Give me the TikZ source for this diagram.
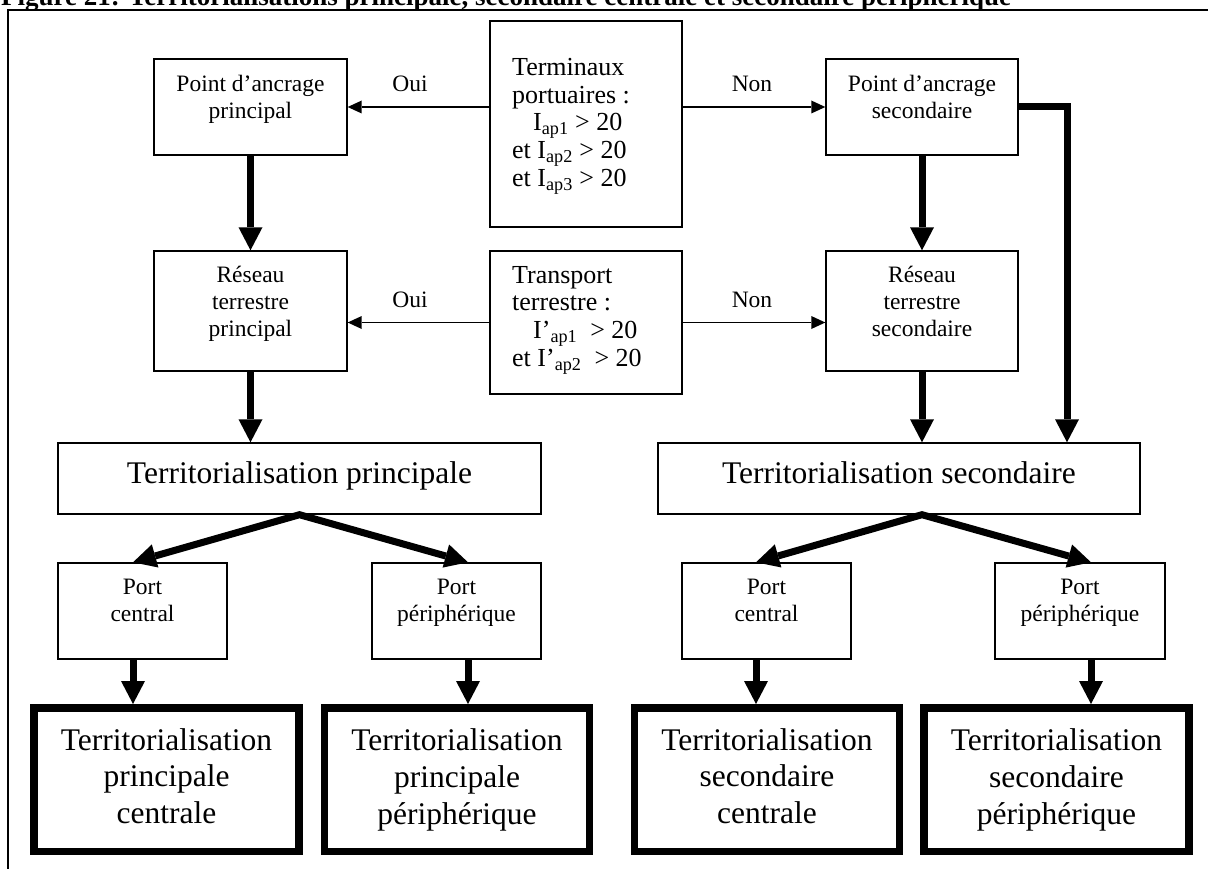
\documentclass[tikz,border=0pt]{standalone}
\usepackage{fontspec}
\setmainfont{Liberation Serif}
\usetikzlibrary{arrows.meta,calc}
\newcommand\fsmall{\fontsize{23.5}{27}\selectfont}
\newcommand\fmid{\fontsize{26}{27.75}\selectfont}
\newcommand\fbig{\fontsize{31.5}{36.7}\selectfont}
\newcommand\ftitle{\bfseries\fontsize{27}{27}\selectfont}
\begin{document}
\begin{tikzpicture}[x=1pt,y=-1pt,
  box/.style={draw, line width=1.4pt, inner sep=0pt, rectangle},
  bigbox/.style={draw, line width=7.5pt, minimum width=265pt, minimum height=143.5pt, inner sep=0pt, rectangle},
  txt/.style={inner sep=0pt, align=center},
  thickarrow/.style={line width=7pt, -{Triangle[length=23pt,width=24pt,line width=0pt]}},
  bothtips/.style={line width=7pt, {Triangle[length=23pt,width=24pt,line width=0pt]}-{Triangle[length=23pt,width=24pt,line width=0pt]}},
  thinarrow/.style={line width=1.4pt, -{Triangle[length=14pt,width=13pt,line width=0pt]}},
  lbl/.style={anchor=base, inner sep=0pt, font=\fsmall}
]
\clip (0,0) rectangle (1208,869);
\node[anchor=base west, inner sep=0pt, font=\ftitle] (title) at (1,5.5) {Figure 21: Territorialisations principale, secondaire centrale et secondaire périphérique};
\draw[line width=1.5pt] (8,869) -- (8,10) -- (1208,10);

% boxes
\node[box, minimum width=193pt, minimum height=96pt] (pa1) at (250.5,107) {};
\node[box, minimum width=192pt, minimum height=96pt] (pa2) at (922,107) {};
\node[box, minimum width=192pt, minimum height=206pt] (term) at (586,124) {};
\node[box, minimum width=193pt, minimum height=120pt] (rt1) at (250.5,311) {};
\node[box, minimum width=192pt, minimum height=120pt] (rt2) at (922,311) {};
\node[box, minimum width=192pt, minimum height=143pt] (trans) at (586,322.5) {};
\node[box, minimum width=483pt, minimum height=71pt] (tp) at (299.5,478.5) {};
\node[box, minimum width=482pt, minimum height=71pt] (ts) at (899,478.5) {};
\node[box, minimum width=169pt, minimum height=96pt] (pc1) at (142.5,611) {};
\node[box, minimum width=169pt, minimum height=96pt] (pp1) at (456.5,611) {};
\node[box, minimum width=169pt, minimum height=96pt] (pc2) at (766.5,611) {};
\node[box, minimum width=170pt, minimum height=96pt] (pp2) at (1080,611) {};
\node[bigbox] (b1) at (166.5,779.5) {};
\node[bigbox] (b2) at (457,779.5) {};
\node[bigbox] (b3) at (767,779.5) {};
\node[bigbox] (b4) at (1056.5,779.5) {};

% texts
\node[txt, font=\fsmall] (pa1t) at (250.5,99.8) {Point d’ancrage\\principal};
\node[txt, font=\fsmall] (pa2t) at (922,97.3) {Point d’ancrage\\secondaire};
\node[txt, font=\fsmall] (rt1t) at (250.5,304.3) {Réseau\\terrestre\\principal};
\node[txt, font=\fsmall] (rt2t) at (922,301.8) {Réseau\\terrestre\\secondaire};
\node[txt, align=left, font=\fmid, anchor=west] (termt) at (512,126) {Terminaux\\portuaires :\\\hspace*{21pt}I\textsubscript{ap1} > 20\\et I\textsubscript{ap2} > 20\\et I\textsubscript{ap3} > 20};
\node[txt, align=left, font=\fmid, anchor=west] (transt) at (512,320) {Transport\\terrestre :\\\hspace*{21pt}I’\textsubscript{ap1} \ > 20\\et I’\textsubscript{ap2} \ > 20};
\node[lbl] (oui1) at (410,92) {Oui};
\node[lbl] (oui2) at (410,307) {Oui};
\node[lbl] (non1) at (752,92) {Non};
\node[lbl] (non2) at (752,307) {Non};
\node[anchor=base, inner sep=0pt, font=\fbig] (tpt) at (299.5,483) {Territorialisation principale};
\node[anchor=base, inner sep=0pt, font=\fbig] (tst) at (899,483) {Territorialisation secondaire};
\node[txt, font=\fsmall] (pc1t) at (142.5,600.7) {Port\\central};
\node[txt, font=\fsmall] (pp1t) at (456.5,603) {Port\\périphérique};
\node[txt, font=\fsmall] (pc2t) at (766.5,600.7) {Port\\central};
\node[txt, font=\fsmall] (pp2t) at (1080,603) {Port\\périphérique};
\node[txt, font=\fbig] (b1t) at (166.5,776) {Territorialisation\\principale\\centrale};
\node[txt, font=\fbig] (b2t) at (457,780) {Territorialisation\\principale\\périphérique};
\node[txt, font=\fbig] (b3t) at (767,776) {Territorialisation\\secondaire\\centrale};
\node[txt, font=\fbig] (b4t) at (1056.5,780) {Territorialisation\\secondaire\\périphérique};

% thin arrows
\draw[thinarrow] (term.west |- pa1.east) -- (pa1.east);
\draw[thinarrow] (term.east |- pa2.west) -- (pa2.west);
\draw[thinarrow] (trans.west) -- (rt1.east |- trans.west);
\draw[thinarrow] (trans.east) -- (rt2.west |- trans.east);

% thick arrows
\draw[thickarrow] (pa1.south) -- (rt1.north);
\draw[thickarrow] (rt1.south) -- (rt1.south |- tp.north);
\draw[thickarrow] (pa2.south) -- (rt2.north);
\draw[thickarrow] (rt2.south) -- (rt2.south |- ts.north);
\draw[thickarrow] (pa2.east) -| ([xshift=168pt]ts.north);

\coordinate (ap1) at (tp.south);
\coordinate (ap2) at (rt2.south |- ts.south);
\draw[bothtips] ([xshift=-9.5pt]pc1.north) -- (ap1) -- ([xshift=11.5pt]pp1.north);
\draw[bothtips] ([xshift=-10.5pt]pc2.north) -- (ap2) -- ([xshift=11pt]pp2.north);

\draw[thickarrow] ([xshift=-9.5pt]pc1.south) -- ([xshift=-9.5pt]pc1.south |- b1.north);
\draw[thickarrow] ([xshift=11.5pt]pp1.south) -- ([xshift=11.5pt]pp1.south |- b2.north);
\draw[thickarrow] ([xshift=-10.5pt]pc2.south) -- ([xshift=-10.5pt]pc2.south |- b3.north);
\draw[thickarrow] ([xshift=11pt]pp2.south) -- ([xshift=11pt]pp2.south |- b4.north);
\end{tikzpicture}
\end{document}
